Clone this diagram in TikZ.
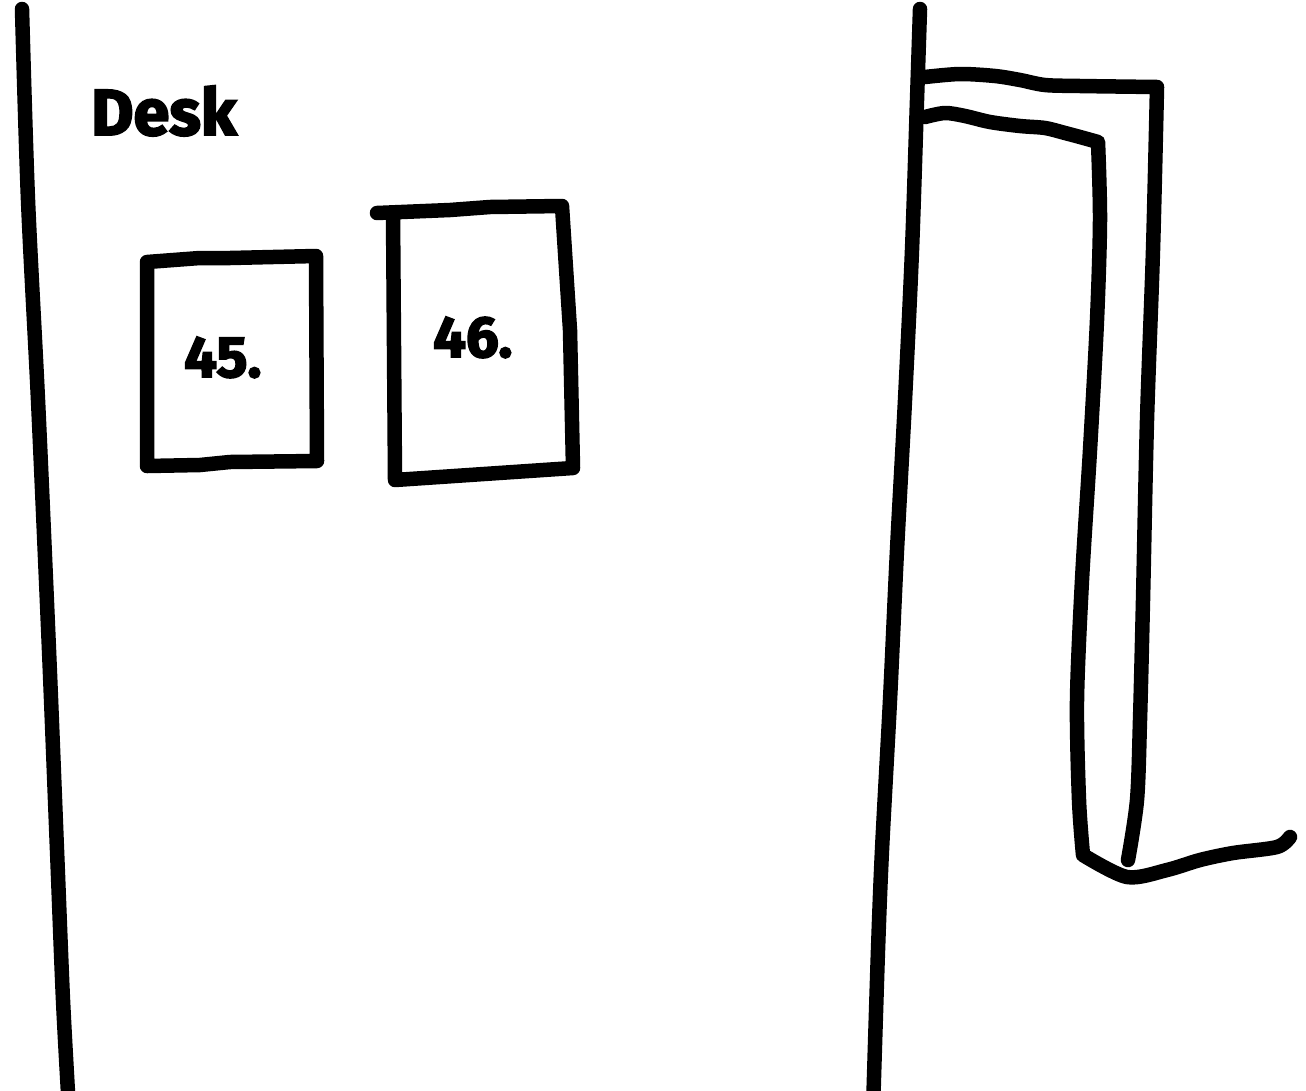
\documentclass[tikz,border=0pt]{standalone}
\usepackage{fontspec}
\setmainfont{Fira Sans}[BoldFeatures={FakeBold=3}]
\begin{document}
\begin{tikzpicture}[x=1pt,y=-1pt,
  ink/.style={line width=14.5pt, line cap=round, line join=round},
  deskfont/.style={font=\fontsize{65}{70}\selectfont\bfseries, inner sep=0pt, anchor=base west},
  numfont/.style={font=\fontsize{58}{64}\selectfont\bfseries, inner sep=0pt, anchor=base west}]
\useasboundingbox (0,0) rectangle (1306,1090);
\fill[white] (0,0) rectangle (1306,1090);
\begin{scope}
\clip (0,0) rectangle (1306,1090);
% desk outline
\draw[ink] plot[smooth] coordinates {(22,9) (28,200) (38,400) (49,650) (57,850) (63,1000) (69,1110)};
\draw[ink] plot[smooth] coordinates {(920,9) (917,100) (912,250) (905,400) (897,550) (890,700) (882,850) (878,950) (873,1110)};
% door outer
\draw[ink] plot[smooth] coordinates {(925,77) (960,74) (995,76) (1020,80) (1045,85) (1080,86) (1157,87)}
  -- plot[smooth] coordinates {(1157,87) (1153,250) (1147,420) (1143,600) (1140,720) (1137,800) (1128,860)};
% door inner
\draw[ink] plot[smooth] coordinates {(925,117) (945,113) (965,116) (990,122) (1020,126) (1045,128) (1065,133) (1080,137) (1098,142)}
  -- plot[smooth] coordinates {(1098,142) (1100,220) (1097,320) (1090,450) (1082,580) (1077,700) (1079,800) (1083,855)}
  -- plot[smooth] coordinates {(1083,855) (1127,877) (1167,870) (1200,860) (1233,853) (1277,847) (1290,837)};
\end{scope}
% boxes
\draw[ink] (147,262) -- (200,258) -- (230,258) -- (316,256) -- (317,461) -- (230,462) -- (200,465) -- (147,466) -- cycle;
\draw[ink] (377,213) -- (450,210) -- (490,207) -- (562,206) -- (570,330) -- (573,468) -- (395,480) -- (393,213);
% labels
\node[deskfont] (desk) at (91,135) {Desk};
\node[numfont] (n45) at (184,377) {45.};
\node[numfont] (n46) at (433,357) {46.};
\end{tikzpicture}
\end{document}
